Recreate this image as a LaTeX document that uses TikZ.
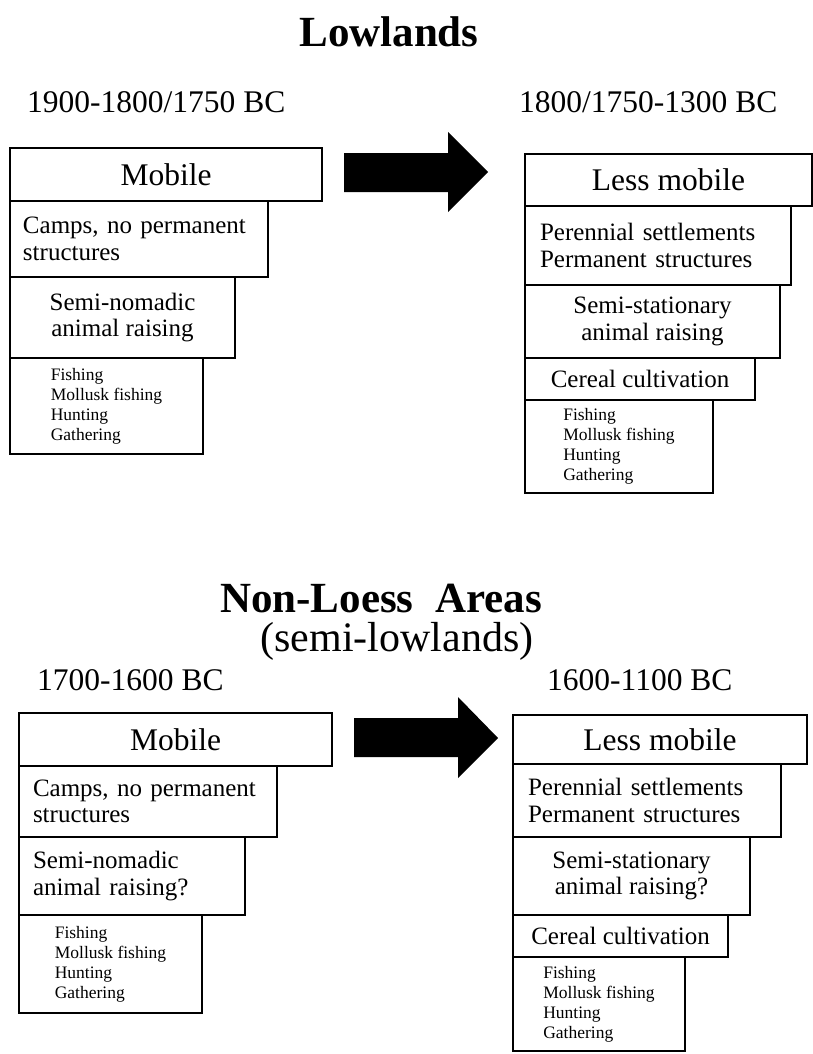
\documentclass[tikz,border=0pt]{standalone}
\usepackage{fontspec}
\setmainfont{Liberation Serif}
\usetikzlibrary{positioning}
\tikzset{x=1pt, y=-1pt,
	box/.style={draw, line width=1.8pt, inner sep=0pt, outer sep=0pt, anchor=north west},
	under/.style={below=0pt of #1.south west, anchor=north west},
	big/.style={font=\fontsize{31.5}{34}\selectfont},
	mid/.style={font=\fontsize{25}{26.5}\selectfont},
	small/.style={font=\fontsize{17.5}{20}\selectfont, align=left},
	title/.style={font=\bfseries\fontsize{43}{46}\selectfont, anchor=base, inner sep=0pt},
	date/.style={font=\fontsize{31.5}{34}\selectfont, anchor=base west, inner sep=0pt}}

\begin{document}
\begin{tikzpicture}
	\useasboundingbox (0,0) rectangle (813,1054);

	% Lowlands
	\node[title] (Lowlands) at (389,47) {Lowlands};
	\node[date] (Date A) at (27,113) {1900-1800/1750 BC};
	\node[date] (Date B) at (519,113) {1800/1750-1300 BC};

	\node[box, big, minimum width=312pt, minimum height=53pt] (Mobile A) at (10,148) {Mobile};
	\node[box, mid, under=Mobile A, minimum width=258pt, minimum height=76pt, align=left, text width=232pt] (Camps A) {Camps, no permanent\\structures};
	\node[box, mid, under=Camps A, minimum width=225pt, minimum height=81pt, align=center] (Nomadic A) {Semi-nomadic\\animal raising};
	\node[box, small, under=Nomadic A, minimum width=193pt, minimum height=96pt] (Wild A) {Fishing\\Mollusk fishing\\Hunting\\Gathering};

	\node[box, big, minimum width=287pt, minimum height=52pt] (Less A) at (525,154) {Less mobile};
	\node[box, mid, under=Less A, minimum width=266pt, minimum height=79pt, align=left, text width=236pt] (Perennial A) {Perennial settlements\\Permanent structures};
	\node[box, mid, under=Perennial A, minimum width=255pt, minimum height=73pt, align=center] (Stationary A) {Semi-stationary\\animal raising};
	\node[box, mid, under=Stationary A, minimum width=230pt, minimum height=42pt] (Cereal A) {Cereal cultivation};
	\node[box, small, under=Cereal A, minimum width=188pt, minimum height=93pt] (Wild B) {Fishing\\Mollusk fishing\\Hunting\\Gathering};

	\fill (344,153) -- (448,153) -- (448,132) -- (488,172) -- (448,212) -- (448,192) -- (344,192) -- cycle;

	% Non-Loess Areas
	\node[title] (Nonloess) at (381,612) {Non-Loess~ Areas};
	\node[font=\fontsize{42}{44}\selectfont, anchor=base, inner sep=0pt] (Semilow) at (397,651) {(semi-lowlands)};
	\node[date] (Date C) at (37,690) {1700-1600 BC};
	\node[date] (Date D) at (547,690) {1600-1100 BC};

	\node[box, big, minimum width=313pt, minimum height=53pt] (Mobile C) at (19,713) {Mobile};
	\node[box, mid, under=Mobile C, minimum width=258pt, minimum height=71pt, align=left, text width=230pt] (Camps C) {Camps, no permanent\\structures};
	\node[box, mid, under=Camps C, minimum width=226pt, minimum height=78pt, align=left, text width=198pt] (Nomadic C) {Semi-nomadic\\animal raising?};
	\node[box, small, under=Nomadic C, minimum width=183pt, minimum height=98pt] (Wild C) {Fishing\\Mollusk fishing\\Hunting\\Gathering};

	\node[box, big, minimum width=294pt, minimum height=49pt] (Less C) at (513,715) {Less mobile};
	\node[box, mid, under=Less C, minimum width=268pt, minimum height=73pt, align=left, text width=238pt] (Perennial C) {Perennial settlements\\Permanent structures};
	\node[box, mid, under=Perennial C, minimum width=237pt, minimum height=78pt, align=center] (Stationary C) {Semi-stationary\\animal raising?};
	\node[box, mid, under=Stationary C, minimum width=215pt, minimum height=42pt] (Cereal C) {Cereal cultivation};
	\node[box, small, under=Cereal C, minimum width=172pt, minimum height=94pt] (Wild D) {Fishing\\Mollusk fishing\\Hunting\\Gathering};

	\fill (354,718) -- (458,718) -- (458,697) -- (498,738) -- (458,778) -- (458,757) -- (354,757) -- cycle;
\end{tikzpicture}
\end{document}
